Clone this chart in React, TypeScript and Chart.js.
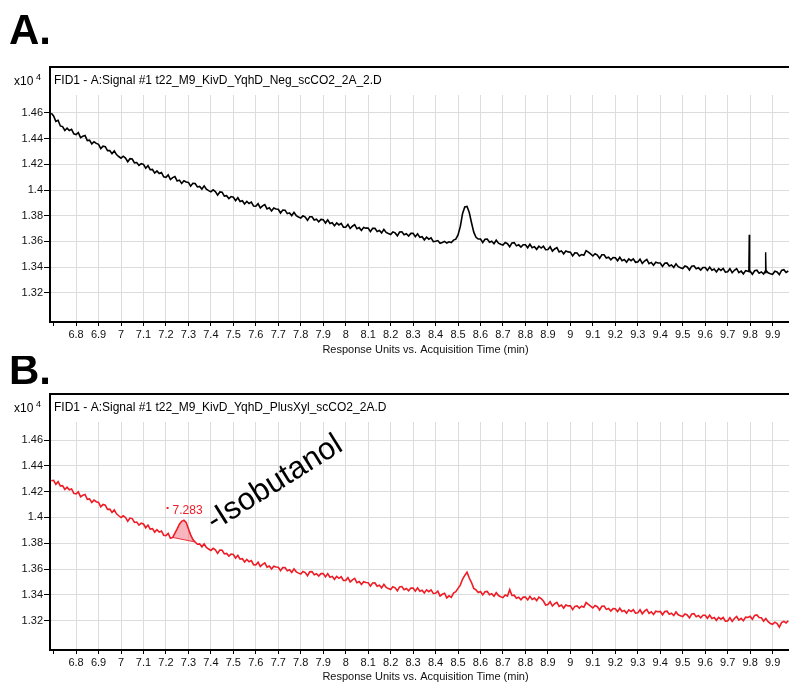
import React, { useEffect, useRef } from 'react';
import { Chart, registerables } from 'chart.js';

Chart.register(...registerables);

const FONT = '"Liberation Sans", Arial, sans-serif';

// Acquisition time (min), shared sampling grid of both chromatograms
const TIME_MIN = [
  6.69,
  6.7, 6.71, 6.72, 6.73, 6.74, 6.75, 6.76, 6.77, 6.78, 6.79,
  6.8, 6.81, 6.82, 6.83, 6.84, 6.85, 6.86, 6.87, 6.88, 6.89,
  6.9, 6.91, 6.92, 6.93, 6.94, 6.95, 6.96, 6.97, 6.98, 6.99,
  7.0, 7.01, 7.02, 7.03, 7.04, 7.05, 7.06, 7.07, 7.08, 7.09,
  7.1, 7.11, 7.12, 7.13, 7.14, 7.15, 7.16, 7.17, 7.18, 7.19,
  7.2, 7.21, 7.22, 7.23, 7.24, 7.25, 7.26, 7.27, 7.28, 7.29,
  7.3, 7.31, 7.32, 7.33, 7.34, 7.35, 7.36, 7.37, 7.38, 7.39,
  7.4, 7.41, 7.42, 7.43, 7.44, 7.45, 7.46, 7.47, 7.48, 7.49,
  7.5, 7.51, 7.52, 7.53, 7.54, 7.55, 7.56, 7.57, 7.58, 7.59,
  7.6, 7.61, 7.62, 7.63, 7.64, 7.65, 7.66, 7.67, 7.68, 7.69,
  7.7, 7.71, 7.72, 7.73, 7.74, 7.75, 7.76, 7.77, 7.78, 7.79,
  7.8, 7.81, 7.82, 7.83, 7.84, 7.85, 7.86, 7.87, 7.88, 7.89,
  7.9, 7.91, 7.92, 7.93, 7.94, 7.95, 7.96, 7.97, 7.98, 7.99,
  8.0, 8.01, 8.02, 8.03, 8.04, 8.05, 8.06, 8.07, 8.08, 8.09,
  8.1, 8.11, 8.12, 8.13, 8.14, 8.15, 8.16, 8.17, 8.18, 8.19,
  8.2, 8.21, 8.22, 8.23, 8.24, 8.25, 8.26, 8.27, 8.28, 8.29,
  8.3, 8.31, 8.32, 8.33, 8.34, 8.35, 8.36, 8.37, 8.38, 8.39,
  8.4, 8.41, 8.42, 8.43, 8.44, 8.45, 8.46, 8.47, 8.48, 8.49,
  8.5, 8.51, 8.52, 8.53, 8.54, 8.55, 8.56, 8.57, 8.58, 8.59,
  8.6, 8.61, 8.62, 8.63, 8.64, 8.65, 8.66, 8.67, 8.68, 8.69,
  8.7, 8.71, 8.72, 8.73, 8.74, 8.75, 8.76, 8.77, 8.78, 8.79,
  8.8, 8.81, 8.82, 8.83, 8.84, 8.85, 8.86, 8.87, 8.88, 8.89,
  8.9, 8.91, 8.92, 8.93, 8.94, 8.95, 8.96, 8.97, 8.98, 8.99,
  9.0, 9.01, 9.02, 9.03, 9.04, 9.05, 9.06, 9.07, 9.08, 9.09,
  9.1, 9.11, 9.12, 9.13, 9.14, 9.15, 9.16, 9.17, 9.18, 9.19,
  9.2, 9.21, 9.22, 9.23, 9.24, 9.25, 9.26, 9.27, 9.28, 9.29,
  9.3, 9.31, 9.32, 9.33, 9.34, 9.35, 9.36, 9.37, 9.38, 9.39,
  9.4, 9.41, 9.42, 9.43, 9.44, 9.45, 9.46, 9.47, 9.48, 9.49,
  9.5, 9.51, 9.52, 9.53, 9.54, 9.55, 9.56, 9.57, 9.58, 9.59,
  9.6, 9.61, 9.62, 9.63, 9.64, 9.65, 9.66, 9.67, 9.68, 9.69,
  9.7, 9.71, 9.72, 9.73, 9.74, 9.75, 9.76, 9.77, 9.78, 9.79,
  9.8, 9.81, 9.82, 9.83, 9.84, 9.85, 9.86, 9.87, 9.88, 9.89,
  9.9, 9.91, 9.92, 9.93, 9.94, 9.95, 9.96, 9.97,
];

// Panel A: t22_M9_KivD_YqhD_Neg (response units)
const SIGNAL_A = [
  14598,
  14577, 14535, 14543, 14499, 14494, 14464, 14482, 14463, 14472, 14438,
  14432, 14447, 14408, 14419, 14424, 14385, 14388, 14359, 14376, 14363,
  14356, 14323, 14342, 14338, 14307, 14308, 14283, 14304, 14276, 14261,
  14248, 14263, 14249, 14220, 14244, 14241, 14212, 14214, 14191, 14205,
  14200, 14170, 14190, 14158, 14160, 14132, 14149, 14129, 14137, 14103,
  14099, 14118, 14082, 14097, 14105, 14070, 14077, 14051, 14072, 14062,
  14059, 14030, 14052, 14051, 14024, 14028, 14007, 14032, 14007, 13995,
  13986, 14001, 13988, 13960, 13985, 13982, 13953, 13956, 13934, 13949,
  13944, 13917, 13940, 13911, 13916, 13891, 13912, 13895, 13906, 13875,
  13874, 13894, 13860, 13877, 13887, 13853, 13861, 13837, 13860, 13852,
  13850, 13821, 13844, 13843, 13816, 13822, 13801, 13826, 13801, 13790,
  13781, 13799, 13789, 13764, 13792, 13792, 13766, 13772, 13753, 13771,
  13769, 13743, 13767, 13739, 13745, 13722, 13744, 13728, 13740, 13710,
  13710, 13732, 13700, 13718, 13730, 13698, 13707, 13685, 13709, 13703,
  13703, 13676, 13701, 13702, 13677, 13685, 13666, 13693, 13670, 13661,
  13654, 13674, 13666, 13643, 13673, 13675, 13651, 13659, 13642, 13662,
  13662, 13636, 13659, 13631, 13636, 13612, 13633, 13617, 13628, 13598,
  13601, 13606, 13585, 13591, 13600, 13587, 13597, 13591, 13610, 13617,
  13650, 13715, 13815, 13868, 13872, 13825, 13745, 13672, 13632, 13618,
  13618, 13591, 13617, 13618, 13593, 13601, 13582, 13609, 13586, 13578,
  13571, 13591, 13582, 13558, 13588, 13590, 13565, 13573, 13555, 13574,
  13574, 13550, 13577, 13551, 13559, 13538, 13562, 13548, 13562, 13535,
  13537, 13558, 13524, 13541, 13551, 13518, 13526, 13503, 13525, 13518,
  13516, 13487, 13510, 13509, 13487, 13497, 13491, 13528, 13516, 13502,
  13486, 13504, 13494, 13468, 13496, 13496, 13470, 13476, 13456, 13474,
  13472, 13449, 13476, 13450, 13459, 13438, 13463, 13450, 13464, 13437,
  13440, 13462, 13429, 13447, 13459, 13426, 13436, 13414, 13438, 13431,
  13431, 13405, 13430, 13432, 13408, 13416, 13397, 13425, 13403, 13394,
  13388, 13408, 13401, 13377, 13407, 13410, 13386, 13394, 13376, 13397,
  13397, 13374, 13400, 13375, 13384, 13362, 13387, 13374, 13389, 13361,
  13364, 13387, 13356, 13375, 13388, 13357, 13368, 13347, 13372, 13367,
  13368, 13344, 13371, 13375, 13352, 13362, 13346, 13375, 13355, 13348,
  13344, 13367, 13362, 13341, 13374, 13379, 13358, 13369,
];

// Panel A: two narrow spikes near the end (null breaks the line)
const SPIKE_TIMES_A = [9.794, 9.796, 9.798, 9.83, 9.867, 9.869, 9.871];
const SPIKE_VALUES_A = [13360, 13652, 13358, null, 13356, 13515, 13354];

// Panel B: t22_M9_KivD_YqhD_PlusXyl (response units)
const SIGNAL_B = [
  14284,
  14288, 14257, 14277, 14244, 14246, 14217, 14234, 14214, 14221, 14187,
  14182, 14198, 14160, 14172, 14178, 14140, 14144, 14116, 14134, 14122,
  14116, 14082, 14101, 14095, 14063, 14064, 14038, 14058, 14028, 14013,
  13999, 14013, 14000, 13970, 13995, 13991, 13961, 13964, 13940, 13955,
  13949, 13920, 13941, 13910, 13913, 13886, 13905, 13886, 13895, 13862,
  13859, 13876, 13838, 13845, 13878, 13912, 13948, 13970, 13978, 13962,
  13912, 13865, 13828, 13810, 13792, 13795, 13772, 13795, 13768, 13755,
  13744, 13760, 13748, 13721, 13747, 13745, 13717, 13721, 13700, 13716,
  13712, 13684, 13706, 13676, 13680, 13654, 13674, 13656, 13666, 13634,
  13632, 13653, 13620, 13636, 13647, 13614, 13623, 13600, 13622, 13615,
  13614, 13587, 13611, 13612, 13587, 13594, 13574, 13601, 13578, 13568,
  13561, 13581, 13572, 13548, 13578, 13580, 13555, 13563, 13545, 13564,
  13564, 13539, 13564, 13536, 13543, 13520, 13543, 13528, 13540, 13511,
  13512, 13533, 13500, 13516, 13527, 13494, 13503, 13480, 13502, 13495,
  13494, 13467, 13491, 13492, 13467, 13474, 13454, 13481, 13458, 13448,
  13441, 13462, 13454, 13431, 13461, 13464, 13440, 13449, 13431, 13452,
  13452, 13428, 13454, 13428, 13436, 13414, 13438, 13424, 13438, 13410,
  13412, 13428, 13391, 13404, 13412, 13376, 13392, 13380, 13413, 13424,
  13450, 13475, 13520, 13550, 13575, 13530, 13495, 13450, 13438, 13418,
  13426, 13399, 13424, 13426, 13401, 13408, 13389, 13416, 13394, 13385,
  13378, 13398, 13390, 13440, 13395, 13397, 13373, 13381, 13362, 13382,
  13382, 13360, 13388, 13364, 13375, 13355, 13382, 13370, 13352, 13321,
  13324, 13346, 13313, 13331, 13342, 13310, 13320, 13297, 13321, 13314,
  13314, 13285, 13310, 13314, 13297, 13312, 13304, 13340, 13326, 13312,
  13298, 13317, 13308, 13282, 13311, 13312, 13287, 13294, 13274, 13293,
  13292, 13269, 13296, 13270, 13279, 13258, 13283, 13270, 13284, 13257,
  13260, 13284, 13253, 13273, 13287, 13256, 13268, 13248, 13273, 13269,
  13271, 13245, 13271, 13273, 13249, 13257, 13239, 13267, 13245, 13237,
  13231, 13252, 13244, 13221, 13251, 13254, 13230, 13239, 13221, 13242,
  13242, 13218, 13243, 13217, 13224, 13202, 13225, 13211, 13224, 13196,
  13197, 13223, 13194, 13216, 13232, 13204, 13217, 13199, 13227, 13224,
  13234, 13210, 13240, 13244, 13224, 13222, 13196, 13216, 13191, 13178,
  13171, 13188, 13177, 13150, 13184, 13194, 13182, 13199,
];

// Integrated isobutanol peak in panel B
const PEAK_START = 7.23;
const PEAK_END = 7.33;
const PEAK_BASE_TIMES = [7.23, 7.33];
const PEAK_BASE_VALUES = [13845, 13810];
const PEAK_APEX = 7.283;
const PEAK_LABEL = '7.283';
const PEAK_LABEL_LEVEL = 14050;
const COMPOUND_NOTE = '-Isobutanol';
const NOTE_POS = { t: 7.415, v: 13895 };

const X_TICK_VALUES = [
  6.7, 6.8, 6.9, 7.0, 7.1, 7.2, 7.3, 7.4, 7.5, 7.6, 7.7, 7.8, 7.9, 8.0, 8.1, 8.2,
  8.3, 8.4, 8.5, 8.6, 8.7, 8.8, 8.9, 9.0, 9.1, 9.2, 9.3, 9.4, 9.5, 9.6, 9.7, 9.8, 9.9,
];
const X_TICK_LABELS = [
  '', '6.8', '6.9', '7', '7.1', '7.2', '7.3', '7.4', '7.5', '7.6', '7.7', '7.8', '7.9', '8', '8.1', '8.2',
  '8.3', '8.4', '8.5', '8.6', '8.7', '8.8', '8.9', '9', '9.1', '9.2', '9.3', '9.4', '9.5', '9.6', '9.7', '9.8', '9.9',
];
const Y_TICK_VALUES = [13200, 13400, 13600, 13800, 14000, 14200, 14400, 14600];
const Y_TICK_LABELS = ['1.32', '1.34', '1.36', '1.38', '1.4', '1.42', '1.44', '1.46'];
const X_RANGE = [6.684, 9.973];
const Y_RANGE = [12972, 14740];

const X_TITLE = 'Response Units vs. Acquisition Time (min)';
const HEADER_A = 'FID1 - A:Signal #1 t22_M9_KivD_YqhD_Neg_scCO2_2A_2.D';
const HEADER_B = 'FID1 - A:Signal #1 t22_M9_KivD_YqhD_PlusXyl_scCO2_2A.D';

const RED = '#ee1c25';

const toPoints = (xs: number[], ys: (number | null)[]) => xs.map((x, i) => ({ x, y: ys[i] }));

const decorPlugin = {
  id: 'decor',
  afterDraw(chart: any, _args: any, o: any) {
    const { ctx, chartArea: ca, scales } = chart;
    ctx.save();
    ctx.fillStyle = '#000';
    ctx.textAlign = 'left';
    ctx.textBaseline = 'alphabetic';
    ctx.font = `bold 42px ${FONT}`;
    ctx.fillText(o.letter, 9, o.letterBaseline);

    const frameTop = ca.top - 28;
    ctx.strokeStyle = '#000';
    ctx.lineWidth = 2;
    ctx.beginPath();
    ctx.moveTo(ca.left, ca.top);
    ctx.lineTo(ca.left, frameTop);
    ctx.lineTo(chart.width, frameTop);
    ctx.stroke();

    ctx.textBaseline = 'middle';
    ctx.font = `12px ${FONT}`;
    ctx.fillText(o.header, ca.left + 4, frameTop + 14);
    ctx.fillText('x10', 14, frameTop + 15);
    ctx.font = `9px ${FONT}`;
    ctx.fillText('4', 36, frameTop + 11);

    ctx.font = `11px ${FONT}`;
    ctx.textAlign = 'center';
    ctx.fillStyle = '#111';
    ctx.fillText(X_TITLE, (ca.left + ca.right) / 2 + 6, ca.bottom + o.titleOffset);

    if (o.peak) {
      const px = scales.x.getPixelForValue(PEAK_APEX);
      const py = scales.y.getPixelForValue(PEAK_LABEL_LEVEL);
      ctx.fillStyle = RED;
      ctx.textAlign = 'left';
      ctx.font = `12px ${FONT}`;
      ctx.fillText(PEAK_LABEL, px - 12, py);
      ctx.fillRect(px - 18, py - 4, 2, 2);

      const nx = scales.x.getPixelForValue(NOTE_POS.t);
      const ny = scales.y.getPixelForValue(NOTE_POS.v);
      ctx.translate(nx, ny);
      ctx.rotate((-32 * Math.PI) / 180);
      ctx.fillStyle = '#000';
      ctx.textBaseline = 'alphabetic';
      ctx.font = `31px ${FONT}`;
      ctx.fillText(COMPOUND_NOTE, 0, 0);
    }
    ctx.restore();
  },
};

type PanelCfg = {
  top: number;
  height: number;
  padTop: number;
  xAxisH: number;
  letter: string;
  letterBaseline: number;
  header: string;
  titleOffset: number;
  peak: boolean;
  datasets: any[];
};

function Panel({ cfg }: { cfg: PanelCfg }) {
  const ref = useRef<HTMLCanvasElement>(null);
  useEffect(() => {
    if (!ref.current) return;
    const chart = new Chart(ref.current, {
      type: 'line',
      data: { datasets: cfg.datasets },
      options: {
        animation: false,
        responsive: false,
        events: [],
        layout: { padding: { top: cfg.padTop, left: 0, right: 0, bottom: 0 } },
        plugins: {
          legend: { display: false },
          tooltip: { enabled: false },
          decor: {
            letter: cfg.letter,
            letterBaseline: cfg.letterBaseline,
            header: cfg.header,
            titleOffset: cfg.titleOffset,
            peak: cfg.peak,
          },
        } as any,
        scales: {
          x: {
            type: 'linear',
            min: X_RANGE[0],
            max: X_RANGE[1],
            afterBuildTicks: (s: any) => {
              s.ticks = X_TICK_VALUES.map((value) => ({ value }));
            },
            afterFit: (s: any) => {
              s.height = cfg.xAxisH;
              s.paddingLeft = 0;
              s.paddingRight = 0;
            },
            ticks: {
              callback: (_v: any, i: number) => X_TICK_LABELS[i],
              autoSkip: false,
              maxRotation: 0,
              minRotation: 0,
              padding: 2,
              color: '#111',
              font: { size: 11, family: FONT },
            },
            grid: {
              color: (c: any) => (c.tick && c.tick.value < 6.75 ? 'rgba(0,0,0,0)' : '#dcdcdc'),
              tickColor: '#000',
              tickLength: 4,
              lineWidth: 1,
            },
            border: { display: true, color: '#000', width: 2 },
          },
          y: {
            type: 'linear',
            min: Y_RANGE[0],
            max: Y_RANGE[1],
            afterBuildTicks: (s: any) => {
              s.ticks = Y_TICK_VALUES.map((value) => ({ value }));
            },
            afterFit: (s: any) => {
              s.width = 50;
              s.paddingTop = 0;
              s.paddingBottom = 0;
            },
            ticks: {
              callback: (_v: any, i: number) => Y_TICK_LABELS[i],
              padding: 1,
              color: '#111',
              font: { size: 11, family: FONT },
            },
            grid: { color: '#dcdcdc', tickColor: '#000', tickLength: 6, lineWidth: 1 },
            border: { display: true, color: '#000', width: 2 },
          },
        },
      } as any,
      plugins: [decorPlugin as any],
    });
    return () => chart.destroy();
  }, []);
  return (
    <canvas
      ref={ref}
      width={789}
      height={cfg.height}
      style={{ position: 'absolute', left: 0, top: cfg.top, display: 'block' }}
    />
  );
}

const lineStyle = (color: string, width = 1.6) => ({
  borderColor: color,
  borderWidth: width,
  pointRadius: 0,
  tension: 0,
  fill: false,
});

export default function App() {
  const inPeak = (t: number) => t >= PEAK_START - 1e-9 && t <= PEAK_END + 1e-9;
  const peakTimes = TIME_MIN.filter(inPeak);
  const peakValues = SIGNAL_B.filter((_v, i) => inPeak(TIME_MIN[i]));

  const cfgA: PanelCfg = {
    top: 0,
    height: 356,
    padTop: 95,
    xAxisH: 34,
    letter: 'A.',
    letterBaseline: 44,
    header: HEADER_A,
    titleOffset: 28,
    peak: false,
    datasets: [
      { data: toPoints(TIME_MIN, SIGNAL_A), ...lineStyle('#000') },
      { data: toPoints(SPIKE_TIMES_A, SPIKE_VALUES_A), ...lineStyle('#000', 1.4), spanGaps: false },
    ],
  };
  const cfgB: PanelCfg = {
    top: 356,
    height: 327,
    padTop: 66,
    xAxisH: 33,
    letter: 'B.',
    letterBaseline: 28,
    header: HEADER_B,
    titleOffset: 27,
    peak: true,
    datasets: [
      { data: toPoints(TIME_MIN, SIGNAL_B), ...lineStyle(RED) },
      {
        data: toPoints(peakTimes, peakValues),
        borderColor: 'rgba(0,0,0,0)',
        borderWidth: 0,
        pointRadius: 0,
        tension: 0,
        fill: 2,
        backgroundColor: 'rgba(240, 90, 110, 0.45)',
      },
      { data: toPoints(PEAK_BASE_TIMES, PEAK_BASE_VALUES), ...lineStyle(RED, 1) },
    ],
  };

  return (
    <div style={{ position: 'absolute', left: 0, top: 0, width: 789, height: 683, overflow: 'hidden', background: '#fff' }}>
      <Panel cfg={cfgA} />
      <Panel cfg={cfgB} />
    </div>
  );
}
